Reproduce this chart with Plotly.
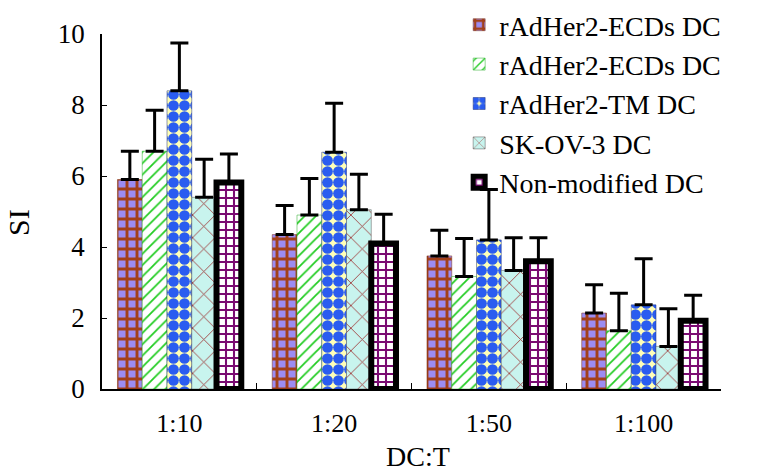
import plotly.graph_objects as go

categories = ["1:10", "1:20", "1:50", "1:100"]
series_names = ["rAdHer2-ECDs DC", "rAdHer2-ECDs DC", "rAdHer2-TM DC", "SK-OV-3 DC", "Non-modified DC"]

ecds1 = [5.9, 4.35, 3.75, 2.14]
ecds1_err = [0.8, 0.82, 0.72, 0.8]
ecds2 = [6.7, 4.9, 3.17, 1.64]
ecds2_err = [1.15, 1.03, 1.07, 1.06]
tm = [8.4, 6.67, 4.2, 2.37]
tm_err = [1.35, 1.38, 1.42, 1.3]
skov = [5.4, 5.05, 3.34, 1.2]
skov_err = [1.07, 1.0, 0.92, 1.06]
nonmod = [5.82, 4.1, 3.6, 1.92]
nonmod_err = [0.8, 0.82, 0.66, 0.72]

values = [ecds1, ecds2, tm, skov, nonmod]
errors = [ecds1_err, ecds2_err, tm_err, skov_err, nonmod_err]

styles = [
    dict(shape="+", fg="#a3401a", bg="#9c8cf2", size=10, sol=0.5, lc="#7a2a10", lw=0.5),
    dict(shape="/", fg="#22cc22", bg="#ffffff", size=8, sol=0.22, lc="#22aa22", lw=0.5),
    dict(shape=".", fg="#2a5cf0", bg="#ffffb8", size=11, sol=0.75, lc="#223377", lw=0.5),
    dict(shape="x", fg="#9b3030", bg="#c8f4ee", size=16, sol=0.1, lc="#555555", lw=0.5),
    dict(shape="+", fg="#7a0a72", bg="#ffffff", size=8, sol=0.45, lc="#000000", lw=6),
]

fig = go.Figure()
for i, (name, v, e, s) in enumerate(zip(series_names, values, errors, styles)):
    fig.add_trace(go.Bar(
        x=categories, y=v, name=name, legendgroup=f"g{i}",
        marker=dict(
            color=s["bg"],
            line=dict(color=s["lc"], width=s["lw"]),
            pattern=dict(shape=s["shape"], fgcolor=s["fg"], bgcolor=s["bg"],
                         size=s["size"], solidity=s["sol"], fgopacity=1),
        ),
        error_y=dict(type="data", array=e, arrayminus=[0] * len(e), symmetric=False,
                     color="black", thickness=3, width=9),
    ))

fig.update_layout(
    width=764, height=472,
    margin=dict(l=102, r=43, t=34, b=83, autoexpand=False),
    paper_bgcolor="white", plot_bgcolor="white",
    barmode="group", bargap=0.2, bargroupgap=0,
    font=dict(family="Liberation Serif", size=26, color="black"),
    showlegend=True,
    legend=dict(x=0.601, y=1.02, xref="container", yref="container",
                xanchor="left", yanchor="top",
                bgcolor="rgba(255,255,255,0)", tracegroupgap=0,
                traceorder="grouped", font=dict(size=28), itemwidth=30),
    xaxis=dict(showline=True, linecolor="black", linewidth=1.5,
               ticks="inside", tickson="boundaries", ticklen=6, tickcolor="black",
               ticklabelstandoff=10, automargin=False),
    yaxis=dict(range=[0, 10], dtick=2, showline=True, linecolor="black", linewidth=1.5,
               ticks="inside", ticklen=5, tickcolor="black", showgrid=False, zeroline=False,
               ticklabelstandoff=10, automargin=False, tickfont=dict(size=27)),
    annotations=[
        dict(text="DC:T", xref="paper", yref="paper", x=0.511, y=-0.19,
             xanchor="center", yanchor="middle", showarrow=False, font=dict(size=28)),
        dict(text="SI", xref="paper", yref="paper", x=-0.136, y=0.47, textangle=-90,
             xanchor="center", yanchor="middle", showarrow=False, font=dict(size=30)),
    ],
)

fig.write_html("out.html", config={"displayModeBar": False},
               post_script="document.body.style.margin='0';")
